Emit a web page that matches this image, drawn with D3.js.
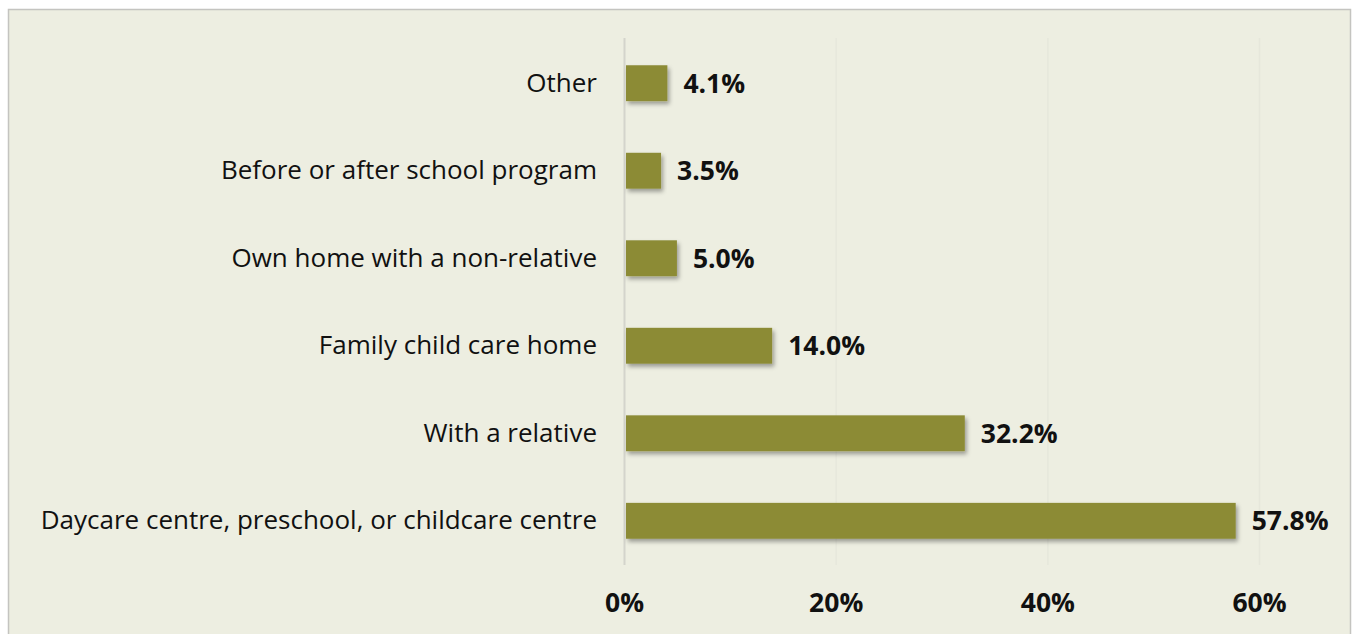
<!DOCTYPE html>
<html>
<head>
<meta charset="utf-8">
<script src="https://cdn.jsdelivr.net/npm/d3@7"></script>
<style>
  body { margin: 0; background: #ffffff; }
  svg text { font-family: "Open Sans", "Noto Sans", sans-serif; fill: #111; }
</style>
</head>
<body>
<script>
// chart data, top to bottom
const categories = [
    'Other',
    'Before or after school program',
    'Own home with a non-relative',
    'Family child care home',
    'With a relative',
    'Daycare centre, preschool, or childcare centre',
];
const values = [4.1, 3.5, 5.0, 14.0, 32.2, 57.8];
const tickValues = [0, 20, 40, 60];

const width = 1353;
const height = 634;

const svg = d3
    .select('body')
    .append('svg')
    .attr('width', width)
    .attr('height', height);

// soft drop shadow for the bars
const defs = svg.append('defs');
defs.append('filter')
    .attr('id', 'shadow')
    .attr('x', '-5%')
    .attr('y', '-20%')
    .attr('width', '120%')
    .attr('height', '160%')
    .append('feDropShadow')
    .attr('dx', 2)
    .attr('dy', 3)
    .attr('stdDeviation', 2)
    .attr('flood-color', '#000')
    .attr('flood-opacity', 0.35);

// panel background
svg.append('rect')
    .attr('x', 8.5)
    .attr('y', 9.5)
    .attr('width', 1342)
    .attr('height', 640)
    .attr('fill', '#edeee1')
    .attr('stroke', '#c4c4c0')
    .attr('stroke-width', 1.5);

const x = d3.scaleLinear().domain([0, 60]).range([624, 1259]);
const y = d3
    .scaleBand()
    .domain(categories)
    .range([39, 565])
    .paddingInner(0.59)
    .paddingOuter(0.3);

// gridlines
svg.append('g')
    .selectAll('line')
    .data(tickValues)
    .join('line')
    .attr('x1', (d) => x(d) + 0.5)
    .attr('x2', (d) => x(d) + 0.5)
    .attr('y1', 38)
    .attr('y2', 565)
    .attr('stroke', (d) => (d === 0 ? '#d4d4cc' : '#e6e7db'))
    .attr('stroke-width', (d) => (d === 0 ? 2 : 1.5));

// bars
svg.append('g')
    .selectAll('rect')
    .data(values)
    .join('rect')
    .attr('x', x(0) + 2)
    .attr('y', (d, i) => y(categories[i]))
    .attr('width', (d) => x(d) - x(0) - 2)
    .attr('height', y.bandwidth())
    .attr('fill', '#8c8b36')
    .attr('filter', 'url(#shadow)');

// value labels
svg.append('g')
    .selectAll('text')
    .data(values)
    .join('text')
    .attr('x', (d) => x(d) + 16)
    .attr('y', (d, i) => y(categories[i]) + y.bandwidth() / 2)
    .attr('dy', '0.36em')
    .attr('font-size', 26.5)
    .attr('font-weight', 'bold')
    .text((d) => d.toFixed(1) + '%');

// category labels
const yAxis = d3.axisLeft(y).tickSize(0).tickPadding(27);
svg.append('g')
    .attr('transform', 'translate(624,0)')
    .call(yAxis)
    .call((g) => g.select('.domain').remove())
    .selectAll('text')
    .attr('font-size', 26)
    .attr('font-family', null)
    .attr('fill', null);

// x axis tick labels
const xAxis = d3
    .axisBottom(x)
    .tickValues(tickValues)
    .tickFormat((d) => d + '%')
    .tickSize(0)
    .tickPadding(0);
svg.append('g')
    .attr('transform', 'translate(0,593)')
    .call(xAxis)
    .call((g) => g.select('.domain').remove())
    .selectAll('text')
    .attr('font-size', 26.5)
    .attr('font-weight', 'bold')
    .attr('font-family', null)
    .attr('fill', null);
</script>
</body>
</html>
